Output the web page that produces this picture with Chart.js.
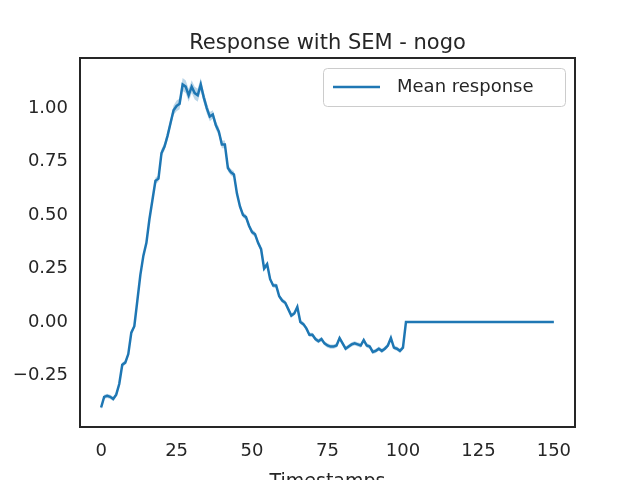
<!DOCTYPE html>
<html>
<head>
<meta charset="utf-8">
<script src="https://cdn.jsdelivr.net/npm/chart.js@4"></script>
<style>
  html, body { margin: 0; padding: 0; background: #fff; }
  #wrap { width: 640px; height: 480px; }
</style>
</head>
<body>
<div id="wrap"><canvas id="chart" width="640" height="480"></canvas></div>
<script>
const meanHead = [
  -0.40, -0.35, -0.345, -0.35, -0.36, -0.34, -0.29, -0.20, -0.19, -0.15,
  -0.05, -0.02, 0.10, 0.22, 0.31, 0.37, 0.48, 0.57, 0.66, 0.67,
  0.79, 0.82, 0.87, 0.93, 0.99, 1.01, 1.02, 1.11, 1.10, 1.06,
  1.10, 1.07, 1.06, 1.11, 1.05, 1.00, 0.96, 0.97, 0.92, 0.89,
  0.83, 0.83, 0.72, 0.70, 0.69, 0.60, 0.54, 0.50, 0.49, 0.45,
  0.42, 0.41, 0.37, 0.34, 0.25, 0.27, 0.20, 0.17, 0.17, 0.12,
  0.10, 0.09, 0.06, 0.03, 0.04, 0.07, 0.00, -0.01, -0.03, -0.06,
  -0.06, -0.08, -0.09, -0.08, -0.10, -0.11, -0.115, -0.115, -0.11, -0.075,
  -0.10, -0.125, -0.115, -0.105, -0.10, -0.105, -0.11, -0.085, -0.11, -0.115,
  -0.14, -0.135, -0.125, -0.135, -0.125, -0.11, -0.075, -0.12, -0.125, -0.135,
  -0.12
];
const semHead = [
  0.01, 0.01, 0.01, 0.01, 0.01, 0.01, 0.01, 0.01, 0.01, 0.01,
  0.01, 0.01, 0.01, 0.01, 0.01, 0.01, 0.012, 0.012, 0.015, 0.015,
  0.018, 0.018, 0.02, 0.02, 0.022, 0.025, 0.025, 0.03, 0.03, 0.03,
  0.03, 0.03, 0.03, 0.03, 0.025, 0.025, 0.022, 0.02, 0.02, 0.02,
  0.018, 0.018, 0.015, 0.015, 0.015, 0.012, 0.012, 0.012, 0.012, 0.012,
  0.012, 0.012, 0.012, 0.012, 0.012, 0.012, 0.01, 0.01, 0.01, 0.01,
  0.01, 0.01, 0.01, 0.01, 0.01, 0.01, 0.01, 0.01, 0.01, 0.01,
  0.01, 0.01, 0.01, 0.01, 0.01, 0.01, 0.01, 0.01, 0.01, 0.01,
  0.01, 0.01, 0.01, 0.01, 0.01, 0.01, 0.01, 0.01, 0.01, 0.01,
  0.01, 0.01, 0.01, 0.01, 0.01, 0.01, 0.01, 0.01, 0.01, 0.01,
  0.01
];
// after t=100 the response is flat at zero (50 samples)
const tailLength = 50;
const tailValue = 0.0;
const xTicks = [0, 25, 50, 75, 100, 125, 150];
const yTicks = [-0.25, 0.00, 0.25, 0.50, 0.75, 1.00];

const mean = meanHead.concat(Array(tailLength).fill(tailValue));
const sem = semHead.concat(Array(tailLength).fill(0));
const pts = (arr) => arr.map((v, i) => ({ x: i, y: v }));
const upper = pts(mean.map((v, i) => v + sem[i]));
const lower = pts(mean.map((v, i) => v - sem[i]));

const FONT = "'DejaVu Sans', sans-serif";
const TEXT = '#262626';
const BLUE = '#1f77b4';

const decor = {
  id: 'decor',
  afterDraw(chart) {
    const { ctx, chartArea: a } = chart;
    ctx.save();
    ctx.strokeStyle = '#262626';
    ctx.lineWidth = 2;
    ctx.strokeRect(a.left, a.top, a.right - a.left, a.bottom - a.top);
    ctx.fillStyle = TEXT;
    ctx.textAlign = 'center';
    ctx.textBaseline = 'alphabetic';
    ctx.font = `21px ${FONT}`;
    ctx.fillText('Response with SEM - nogo', (a.left + a.right) / 2, 49);
    ctx.font = `19px ${FONT}`;
    ctx.fillText('Timestamps', (a.left + a.right) / 2, 487);
    // legend
    const bx = 323, by = 68, bw = 242, bh = 38;
    ctx.fillStyle = 'rgba(255,255,255,0.8)';
    ctx.strokeStyle = '#cccccc';
    ctx.lineWidth = 1;
    ctx.beginPath();
    ctx.roundRect(bx + 0.5, by + 0.5, bw, bh, 4);
    ctx.fill();
    ctx.stroke();
    ctx.strokeStyle = BLUE;
    ctx.lineWidth = 2.5;
    ctx.beginPath();
    ctx.moveTo(bx + 10, by + 19);
    ctx.lineTo(bx + 57, by + 19);
    ctx.stroke();
    ctx.fillStyle = TEXT;
    ctx.textAlign = 'left';
    ctx.textBaseline = 'middle';
    ctx.font = `18px ${FONT}`;
    ctx.fillText('Mean response', bx + 74, by + 19);
    ctx.restore();
  }
};

new Chart(document.getElementById('chart'), {
  type: 'line',
  data: {
    datasets: [
      { label: 'upper', data: upper, borderWidth: 0, pointRadius: 0, fill: false },
      { label: 'lower', data: lower, borderWidth: 0, pointRadius: 0, fill: '-1',
        backgroundColor: 'rgba(31,119,180,0.3)' },
      { label: 'Mean response', data: pts(mean), borderColor: BLUE, borderWidth: 2.5,
        pointRadius: 0, fill: false, tension: 0 }
    ]
  },
  options: {
    responsive: false,
    animation: false,
    layout: { padding: { top: 58, right: 65, left: 0, bottom: 0 } },
    plugins: { legend: { display: false }, title: { display: false }, tooltip: { enabled: false } },
    scales: {
      x: {
        type: 'linear', min: -7, max: 157,
        afterBuildTicks: (s) => { s.ticks = xTicks.map((v) => ({ value: v })); },
        afterFit: (s) => { s.height = 53; },
        grid: { display: false, drawTicks: false },
        border: { display: false },
        ticks: { color: TEXT, font: { family: FONT, size: 18 }, padding: 14, maxRotation: 0 }
      },
      y: {
        type: 'linear', min: -0.491, max: 1.234,
        afterBuildTicks: (s) => { s.ticks = yTicks.map((v) => ({ value: v })); },
        afterFit: (s) => { s.width = 80; },
        grid: { display: false, drawTicks: false },
        border: { display: false },
        ticks: { color: TEXT, font: { family: FONT, size: 18 }, padding: 12,
          callback: (v) => (v < 0 ? '\u2212' + Math.abs(v).toFixed(2) : v.toFixed(2)) }
      }
    }
  },
  plugins: [decor]
});
</script>
</body>
</html>
